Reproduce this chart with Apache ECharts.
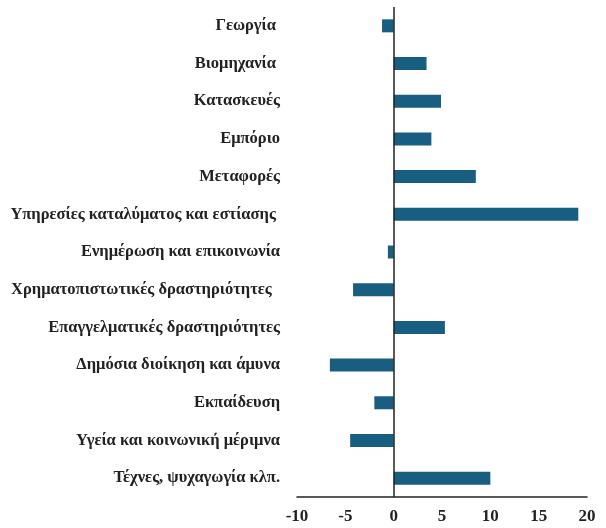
<!DOCTYPE html>
<html><head><meta charset="utf-8">
<script src="https://cdn.jsdelivr.net/npm/echarts@6/dist/echarts.min.js"></script>
<style>html,body{margin:0;padding:0;background:#fff}#c{width:606px;height:528px}</style>
</head><body><div id="c"></div>
<script>
const categories = ["Γεωργία ","Βιομηχανία ","Κατασκευές","Εμπόριο","Μεταφορές","Υπηρεσίες καταλύματος και εστίασης ","Ενημέρωση και επικοινωνία","Χρηματοπιστωτικές δραστηριότητες  ","Επαγγελματικές δραστηριότητες","Δημόσια διοίκηση και άμυνα","Εκπαίδευση","Υγεία και κοινωνική μέριμνα","Τέχνες, ψυχαγωγία κλπ."];
const values = [-1.2, 3.4, 4.9, 3.9, 8.5, 19.1, -0.6, -4.2, 5.3, -6.6, -2.0, -4.5, 10.0];
const xTicks = [-10, 20, 5];
const font = '"Liberation Serif","Times New Roman",serif';
const chart = echarts.init(document.getElementById('c'), null, {renderer:'canvas'});
chart.setOption({
  animation:false,
  grid:{left:297, right:19, top:7, bottom:31, containLabel:false},
  xAxis:{type:'value', min:xTicks[0], max:xTicks[1], interval:xTicks[2],
    axisLine:{show:true, lineStyle:{color:'#222', width:1.5}},
    axisTick:{show:false}, splitLine:{show:false},
    axisLabel:{color:'#222', fontFamily:font, fontWeight:'bold', fontSize:17, margin:11}},
  yAxis:{type:'category', inverse:true, data:categories,
    axisLine:{show:false, onZero:false}, axisTick:{show:false},
    axisLabel:{color:'#222', fontFamily:font, fontWeight:'bold', fontSize:16.5, margin:17}},
  series:[{type:'bar', data:values, barWidth:13,
    itemStyle:{color:'#185e80'},
    markLine:{silent:true, symbol:['none','none'], label:{show:false},
      lineStyle:{color:'#222', type:'solid', width:1.5}, data:[{xAxis:0}]}}]
});
</script></body></html>
